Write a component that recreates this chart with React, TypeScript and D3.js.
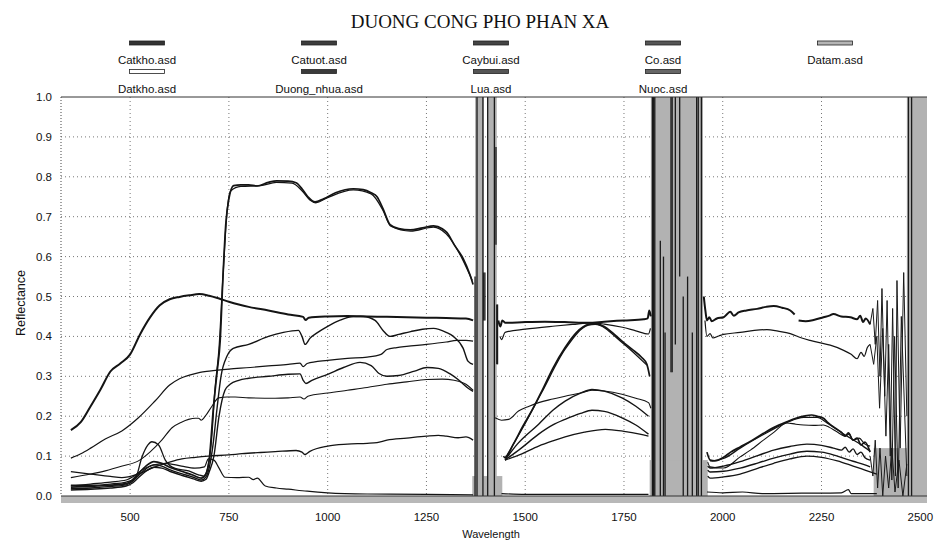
import React from 'react';
import * as d3 from 'd3';

type P = [number, number] | null;

const title = 'DUONG CONG PHO PHAN XA';
const xTicks = [500, 750, 1000, 1250, 1500, 1750, 2000, 2250, 2500];
const yTicks = [0, 0.1, 0.2, 0.3, 0.4, 0.5, 0.6, 0.7, 0.8, 0.9, 1.0];
const legendRow1 = ['Catkho.asd', 'Catuot.asd', 'Caybui.asd', 'Co.asd', 'Datam.asd'];
const legendRow2 = ['Datkho.asd', 'Duong_nhua.asd', 'Lua.asd', 'Nuoc.asd'];

const catkho: P[] = [
  [350,0.165],[375,0.185],[400,0.225],[425,0.267],[450,0.312],[475,0.332],[500,0.355],[525,0.405],[550,0.447],[575,0.478],[600,0.493],[625,0.499],[650,0.503],[675,0.506],[700,0.502],[725,0.495],[750,0.487],[775,0.48],[800,0.474],[850,0.465],[900,0.455],[938,0.449],[944,0.441],[952,0.447],[1000,0.45],[1050,0.451],[1100,0.45],[1150,0.449],[1200,0.448],[1250,0.447],[1300,0.446],[1350,0.445],[1368,0.44], null,
  [1432,0.44],[1437,0.425],[1442,0.44],[1450,0.434],[1500,0.436],[1550,0.437],[1600,0.436],[1660,0.434],[1700,0.437],[1750,0.44],[1800,0.443],[1810,0.445],[1814,0.465],[1818,0.45], null,
  [1952,0.5],[1956,0.465],[1960,0.44],[1966,0.448],[1972,0.438],[1985,0.445],[2002,0.448],[2010,0.455],[2019,0.462],[2028,0.452],[2040,0.46],[2060,0.465],[2087,0.469],[2110,0.474],[2129,0.476],[2150,0.472],[2171,0.465],[2182,0.455], null,
  [2192,0.44],[2210,0.438],[2230,0.441],[2255,0.448],[2270,0.452],[2280,0.456],[2300,0.45],[2323,0.448],[2340,0.443],[2348,0.452],[2355,0.436],[2362,0.445],[2373,0.43],
];
const catkhoTail: P[] = [
  [2373,0.43],[2380,0.47],[2386,0.38],[2392,0.49],[2398,0.3],[2403,0.52],[2410,0.25],[2416,0.49],[2424,0.1],[2430,0.47],[2437,0.05],[2441,0.54],[2449,0.12],[2458,0.56],[2466,0.2],
];
const datkho: P[] = [
  [350,0.095],[375,0.106],[400,0.12],[437,0.143],[479,0.163],[521,0.196],[563,0.238],[600,0.278],[625,0.294],[650,0.303],[677,0.31],[700,0.313],[750,0.318],[804,0.322],[850,0.326],[900,0.33],[930,0.333],[938,0.324],[948,0.332],[1000,0.34],[1050,0.345],[1100,0.348],[1135,0.355],[1150,0.367],[1175,0.372],[1200,0.375],[1250,0.38],[1300,0.386],[1327,0.39],[1350,0.39],[1368,0.388], null,
  [1436,0.4],[1440,0.392],[1449,0.41],[1500,0.418],[1576,0.426],[1620,0.43],[1669,0.434],[1700,0.431],[1746,0.423],[1780,0.414],[1812,0.406],[1817,0.42], null,
  [1955,0.44],[1960,0.4],[1968,0.407],[1975,0.396],[1990,0.401],[2002,0.405],[2044,0.41],[2080,0.415],[2112,0.417],[2140,0.413],[2171,0.407],[2200,0.396],[2221,0.39],[2250,0.383],[2272,0.378],[2306,0.365],[2325,0.355],[2340,0.344],[2350,0.36],[2358,0.35],[2366,0.372],[2373,0.38],
];
const datkhoTail: P[] = [
  [2373,0.38],[2382,0.33],[2390,0.4],[2397,0.22],[2405,0.42],[2413,0.15],[2420,0.38],[2428,0.04],[2435,0.4],[2444,0.02],[2452,0.45],[2466,0.05],
];
const caybui: P[] = [
  [350,0.022],[400,0.024],[450,0.027],[490,0.031],[505,0.04],[520,0.055],[540,0.075],[560,0.086],[580,0.082],[600,0.072],[630,0.062],[660,0.052],[680,0.045],[692,0.055],[700,0.09],[711,0.224],[720,0.31],[728,0.39],[735,0.55],[742,0.68],[750,0.745],[762,0.778],[780,0.78],[800,0.78],[821,0.777],[850,0.786],[871,0.79],[900,0.789],[920,0.785],[935,0.77],[950,0.75],[968,0.737],[990,0.745],[1020,0.76],[1065,0.77],[1090,0.768],[1110,0.76],[1125,0.75],[1140,0.72],[1158,0.68],[1180,0.67],[1209,0.667],[1240,0.672],[1268,0.677],[1290,0.67],[1302,0.66],[1320,0.63],[1343,0.595],[1360,0.555],[1368,0.53], null,
  [1445,0.1],[1449,0.096],[1470,0.13],[1492,0.171],[1520,0.22],[1542,0.263],[1570,0.32],[1601,0.372],[1630,0.41],[1660,0.43],[1677,0.432],[1700,0.425],[1720,0.41],[1745,0.388],[1770,0.368],[1795,0.347],[1808,0.33],[1815,0.3], null,
  [1960,0.11],[1968,0.09],[1980,0.088],[2002,0.097],[2020,0.11],[2044,0.123],[2075,0.14],[2103,0.157],[2130,0.172],[2162,0.186],[2185,0.195],[2205,0.2],[2225,0.203],[2239,0.2],[2255,0.195],[2264,0.186],[2285,0.17],[2300,0.16],[2310,0.15],[2318,0.158],[2330,0.14],[2340,0.145],[2350,0.128],[2360,0.135],[2373,0.11],
];
const lua: P[] = [
  [350,0.027],[400,0.027],[450,0.03],[490,0.035],[513,0.044],[530,0.098],[545,0.128],[555,0.136],[572,0.128],[589,0.09],[614,0.069],[648,0.063],[673,0.053],[686,0.05],[696,0.07],[705,0.13],[715,0.27],[725,0.37],[735,0.55],[745,0.71],[755,0.765],[780,0.776],[830,0.778],[870,0.786],[910,0.784],[935,0.765],[955,0.742],[970,0.735],[1000,0.748],[1065,0.767],[1110,0.757],[1140,0.716],[1160,0.676],[1210,0.664],[1268,0.674],[1300,0.657],[1343,0.59],[1366,0.54], null,
  [1449,0.094],[1492,0.168],[1542,0.26],[1601,0.368],[1660,0.428],[1677,0.43],[1745,0.385],[1808,0.328], null,
  [1968,0.088],[2002,0.094],[2044,0.12],[2103,0.154],[2162,0.184],[2205,0.197],[2239,0.197],[2264,0.183],[2306,0.155],[2348,0.13],[2373,0.112],
];
const co: P[] = [
  [350,0.018],[400,0.02],[450,0.024],[490,0.028],[505,0.036],[520,0.05],[540,0.068],[560,0.078],[580,0.075],[600,0.066],[630,0.056],[660,0.047],[680,0.04],[692,0.048],[700,0.07],[710,0.13],[720,0.22],[730,0.3],[745,0.35],[761,0.37],[800,0.38],[850,0.4],[888,0.41],[926,0.415],[935,0.4],[943,0.38],[955,0.395],[975,0.41],[1000,0.425],[1030,0.44],[1065,0.45],[1090,0.45],[1120,0.44],[1140,0.415],[1158,0.4],[1180,0.405],[1210,0.412],[1240,0.418],[1268,0.42],[1300,0.41],[1318,0.4],[1343,0.37],[1355,0.338],[1368,0.33], null,
  [1449,0.09],[1480,0.13],[1534,0.18],[1570,0.215],[1601,0.238],[1640,0.258],[1669,0.267],[1700,0.263],[1745,0.246],[1780,0.225],[1812,0.2], null,
  [1962,0.075],[1968,0.07],[2002,0.075],[2044,0.086],[2090,0.102],[2129,0.115],[2170,0.124],[2213,0.13],[2250,0.127],[2280,0.12],[2300,0.115],[2310,0.122],[2320,0.11],[2330,0.118],[2340,0.104],[2350,0.11],[2360,0.096],[2373,0.09],
];
const catuot: P[] = [
  [350,0.015],[400,0.017],[450,0.02],[490,0.025],[505,0.032],[520,0.045],[540,0.062],[560,0.072],[580,0.07],[600,0.062],[630,0.052],[660,0.043],[680,0.037],[692,0.042],[700,0.06],[712,0.1],[725,0.2],[740,0.265],[753,0.28],[775,0.29],[800,0.295],[850,0.3],[900,0.305],[930,0.306],[938,0.29],[945,0.282],[960,0.29],[1000,0.305],[1040,0.322],[1082,0.335],[1110,0.327],[1130,0.307],[1150,0.3],[1180,0.302],[1220,0.313],[1251,0.322],[1280,0.32],[1310,0.306],[1330,0.292],[1353,0.272],[1368,0.262], null,
  [1449,0.09],[1490,0.12],[1534,0.155],[1570,0.178],[1601,0.192],[1640,0.207],[1669,0.215],[1700,0.212],[1745,0.196],[1780,0.178],[1812,0.155], null,
  [1962,0.065],[1968,0.06],[2002,0.062],[2044,0.07],[2090,0.083],[2129,0.095],[2170,0.105],[2213,0.112],[2250,0.11],[2290,0.1],[2330,0.087],[2360,0.078],[2373,0.073],
];
const datam: P[] = [
  [350,0.046],[400,0.055],[437,0.063],[480,0.075],[521,0.088],[550,0.11],[580,0.14],[606,0.171],[630,0.185],[648,0.192],[665,0.195],[673,0.195],[680,0.19],[690,0.2],[707,0.225],[724,0.246],[745,0.248],[766,0.248],[800,0.246],[867,0.245],[900,0.246],[930,0.248],[940,0.243],[950,0.25],[1000,0.258],[1050,0.265],[1100,0.272],[1150,0.28],[1200,0.286],[1250,0.292],[1290,0.293],[1320,0.29],[1350,0.28],[1368,0.265], null,
  [1424,0.196],[1440,0.19],[1458,0.192],[1483,0.213],[1510,0.225],[1534,0.234],[1570,0.243],[1601,0.25],[1640,0.258],[1669,0.265],[1700,0.263],[1745,0.255],[1780,0.245],[1812,0.234],[1818,0.22], null,
  [1962,0.085],[1968,0.073],[2002,0.07],[2044,0.098],[2070,0.115],[2103,0.14],[2130,0.16],[2162,0.183],[2185,0.18],[2205,0.178],[2230,0.177],[2255,0.178],[2270,0.172],[2289,0.161],[2310,0.15],[2320,0.155],[2330,0.14],[2345,0.145],[2360,0.13],[2373,0.125],
];
const duongNhua: P[] = [
  [350,0.061],[400,0.055],[450,0.049],[479,0.046],[520,0.055],[563,0.073],[600,0.085],[631,0.093],[665,0.097],[698,0.1],[750,0.103],[783,0.106],[830,0.109],[867,0.111],[920,0.114],[935,0.11],[942,0.104],[955,0.112],[1000,0.125],[1050,0.13],[1100,0.132],[1125,0.134],[1150,0.14],[1200,0.145],[1250,0.15],[1280,0.152],[1300,0.15],[1330,0.146],[1350,0.148],[1368,0.14], null,
  [1449,0.09],[1490,0.105],[1534,0.125],[1570,0.138],[1601,0.148],[1650,0.16],[1703,0.167],[1750,0.162],[1790,0.155],[1812,0.15], null,
  [1962,0.05],[1968,0.045],[2002,0.048],[2044,0.055],[2090,0.07],[2129,0.082],[2170,0.093],[2213,0.1],[2250,0.097],[2290,0.088],[2330,0.075],[2360,0.065],[2390,0.055],
];
const nuoc: P[] = [
  [350,0.025],[400,0.03],[450,0.035],[490,0.04],[510,0.05],[530,0.065],[560,0.078],[590,0.082],[630,0.075],[664,0.07],[688,0.073],[698,0.093],[712,0.09],[725,0.07],[740,0.047],[770,0.046],[800,0.047],[812,0.041],[822,0.045],[842,0.025],[870,0.02],[900,0.017],[948,0.012],[1000,0.008],[1100,0.005],[1250,0.004],[1368,0.003], null,
  [1440,0.006],[1500,0.004],[1650,0.004],[1812,0.004], null,
  [1960,0.01],[2000,0.008],[2050,0.01],[2100,0.006],[2200,0.007],[2300,0.008],[2318,0.016],[2325,0.006],[2390,0.006],
];
const lowTail: P[] = [
  [2373,0.1],[2380,0.05],[2386,0.14],[2392,0.02],[2398,0.12],[2405,0.0],[2412,0.1],[2420,0.02],[2428,0.12],[2436,0.01],[2446,0.09],[2456,0.0],[2466,0.08],
];

// noisy water-absorption regions: [from, to] wavelengths, full height
const noiseBands: [number, number][] = [[1373, 1395], [1404, 1428], [1818, 1950], [2466, 2517]];
// lower wider noise: [from, to, reflectance top]
const noiseBases: [number, number, number][] = [[1366, 1442, 0.05], [1815, 1962, 0.09], [2382, 2466, 0.12]];
// vertical spikes: [wavelength, low, high]
const spikes: [number, number, number][] = [
  [1373,0,0.55],[1378,0,1],[1393,0,1],[1395,0.44,0.56],[1398,0.44,0.56],[1405,0,1],[1422,0,1],[1426,0.63,0.875],[1428,0.33,0.48],[1430,0.33,0.48],
  [1822,0,1],[1825,0,1],[1828,0,1],[1842,0,0.64],[1850,0,0.6],[1854,0,0.41],[1869,0.31,1],[1872,0.31,1],[1880,0.38,1],[1891,0.55,1],[1900,0,0.5],[1911,0,0.55],[1923,0,0.41],[1934,0,1],[1938,0,1],[1946,0,1],
  [2470,0,1],[2478,0,1],
];

const series = [
  { name: 'Catkho.asd', data: catkho },
  { name: 'Datkho.asd', data: datkho },
  { name: 'Datam.asd', data: datam },
  { name: 'Duong_nhua.asd', data: duongNhua },
  { name: 'Catuot.asd', data: catuot },
  { name: 'Co.asd', data: co },
  { name: 'Lua.asd', data: lua },
  { name: 'Caybui.asd', data: caybui },
  { name: 'Nuoc.asd', data: nuoc },
];

const lineWidth: Record<string, number> = {
  'Catkho.asd': 2, 'Caybui.asd': 1.7, 'Lua.asd': 1.3, 'Datkho.asd': 1.2, 'Datam.asd': 1.1,
  'Duong_nhua.asd': 1.3, 'Catuot.asd': 1.4, 'Co.asd': 1.4, 'Nuoc.asd': 1.2,
};
const markerFill: Record<string, string> = {
  'Catkho.asd': '#333', 'Catuot.asd': '#3c3c3c', 'Caybui.asd': '#444', 'Co.asd': '#555',
  'Datam.asd': '#b4b4b4', 'Datkho.asd': '#fff', 'Duong_nhua.asd': '#3a3a3a', 'Lua.asd': '#555', 'Nuoc.asd': '#666',
};

export default function App() {
  const W = 941, H = 541;
  const x = d3.scaleLinear().domain([325, 2517]).range([61, 927]);
  const y = d3.scaleLinear().domain([0, 1]).range([496, 97]);
  const smooth = d3.line<P>().defined(d => d !== null).x(d => x(d![0])).y(d => y(d![1])).curve(d3.curveMonotoneX);
  const sharp = d3.line<P>().defined(d => d !== null).x(d => x(d![0])).y(d => y(d![1]));
  const sans = 'Liberation Sans, Arial, sans-serif';
  const [x0, x1] = x.range();
  const [yb, yt] = y.range();
  const colX = (i: number) => 147 + i * 172;
  const bandGray = '#b2b2b2';

  return (
    <svg width={W} height={H} style={{ position: 'absolute', left: 0, top: 0, background: '#fff' }}>
      <rect x={0} y={0} width={W} height={H} fill="#fff" />
      <text x={480} y={28} textAnchor="middle" fontFamily="Liberation Serif, Times New Roman, serif" fontSize={19} fill="#111">{title}</text>
      {legendRow1.map((n, i) => (
        <g key={n}>
          <rect x={colX(i) - 17.5} y={41} width={35} height={4} fill={markerFill[n]} stroke="#222" strokeWidth={0.8} />
          <text x={colX(i)} y={64} textAnchor="middle" fontFamily={sans} fontSize={11.5} fill="#111">{n}</text>
        </g>
      ))}
      {legendRow2.map((n, i) => (
        <g key={n}>
          <rect x={colX(i) - 17.5} y={69.5} width={35} height={4} fill={markerFill[n]} stroke="#222" strokeWidth={0.8} />
          <text x={colX(i)} y={93} textAnchor="middle" fontFamily={sans} fontSize={11.5} fill="#111">{n}</text>
        </g>
      ))}
      {/* grid */}
      {yTicks.filter(v => v > 0 && v < 1).map(v => (
        <line key={'gy' + v} x1={x0} x2={x1} y1={y(v)} y2={y(v)} stroke="#777" strokeWidth={1} strokeDasharray="1 3" />
      ))}
      {xTicks.map(v => (
        <line key={'gx' + v} x1={x(v)} x2={x(v)} y1={yt} y2={yb} stroke="#777" strokeWidth={1} strokeDasharray="1 3" />
      ))}
      {/* noise regions */}
      {noiseBands.map(([a, b], i) => (
        <rect key={'nb' + i} x={x(a)} y={yt} width={x(b) - x(a)} height={yb - yt} fill={bandGray} />
      ))}
      {noiseBases.map(([a, b, t], i) => (
        <rect key={'nbb' + i} x={x(a)} y={y(t)} width={x(b) - x(a)} height={yb - y(t)} fill={bandGray} />
      ))}
      {/* curves */}
      {series.map(s => (
        <path key={s.name} d={smooth(s.data) || ''} fill="none" stroke="#141414" strokeWidth={lineWidth[s.name]} strokeLinejoin="round" />
      ))}
      {[catkhoTail, datkhoTail, lowTail].map((t, i) => (
        <path key={'tail' + i} d={sharp(t) || ''} fill="none" stroke="#1a1a1a" strokeWidth={1} />
      ))}
      {spikes.map(([w, a, b], i) => (
        <line key={'sp' + i} x1={x(w)} x2={x(w)} y1={y(a)} y2={y(b)} stroke="#1a1a1a" strokeWidth={1.3} />
      ))}
      {/* axes */}
      <line x1={x0} x2={x1} y1={yt} y2={yt} stroke="#333" strokeWidth={1} />
      <line x1={x0} x2={x0} y1={yt} y2={yb} stroke="#444" strokeWidth={1} strokeDasharray="1 2" />
      <rect x={x0} y={yb} width={x1 - x0} height={7} fill="#b8b8b8" />
      <line x1={x0} x2={x1} y1={yb} y2={yb} stroke="#333" strokeWidth={1} />
      {yTicks.map(v => (
        <text key={'ty' + v} x={52} y={y(v) + 4} textAnchor="end" fontFamily={sans} fontSize={11.5} fill="#111">{v.toFixed(1)}</text>
      ))}
      {xTicks.map(v => (
        <text key={'tx' + v} x={x(v)} y={521} textAnchor="middle" fontFamily={sans} fontSize={11.5} fill="#111">{v}</text>
      ))}
      <text x={491} y={538} textAnchor="middle" fontFamily={sans} fontSize={11} fill="#111">Wavelength</text>
      <text transform="translate(25,303) rotate(-90)" textAnchor="middle" fontFamily={sans} fontSize={12.5} fill="#111">Reflectance</text>
    </svg>
  );
}
